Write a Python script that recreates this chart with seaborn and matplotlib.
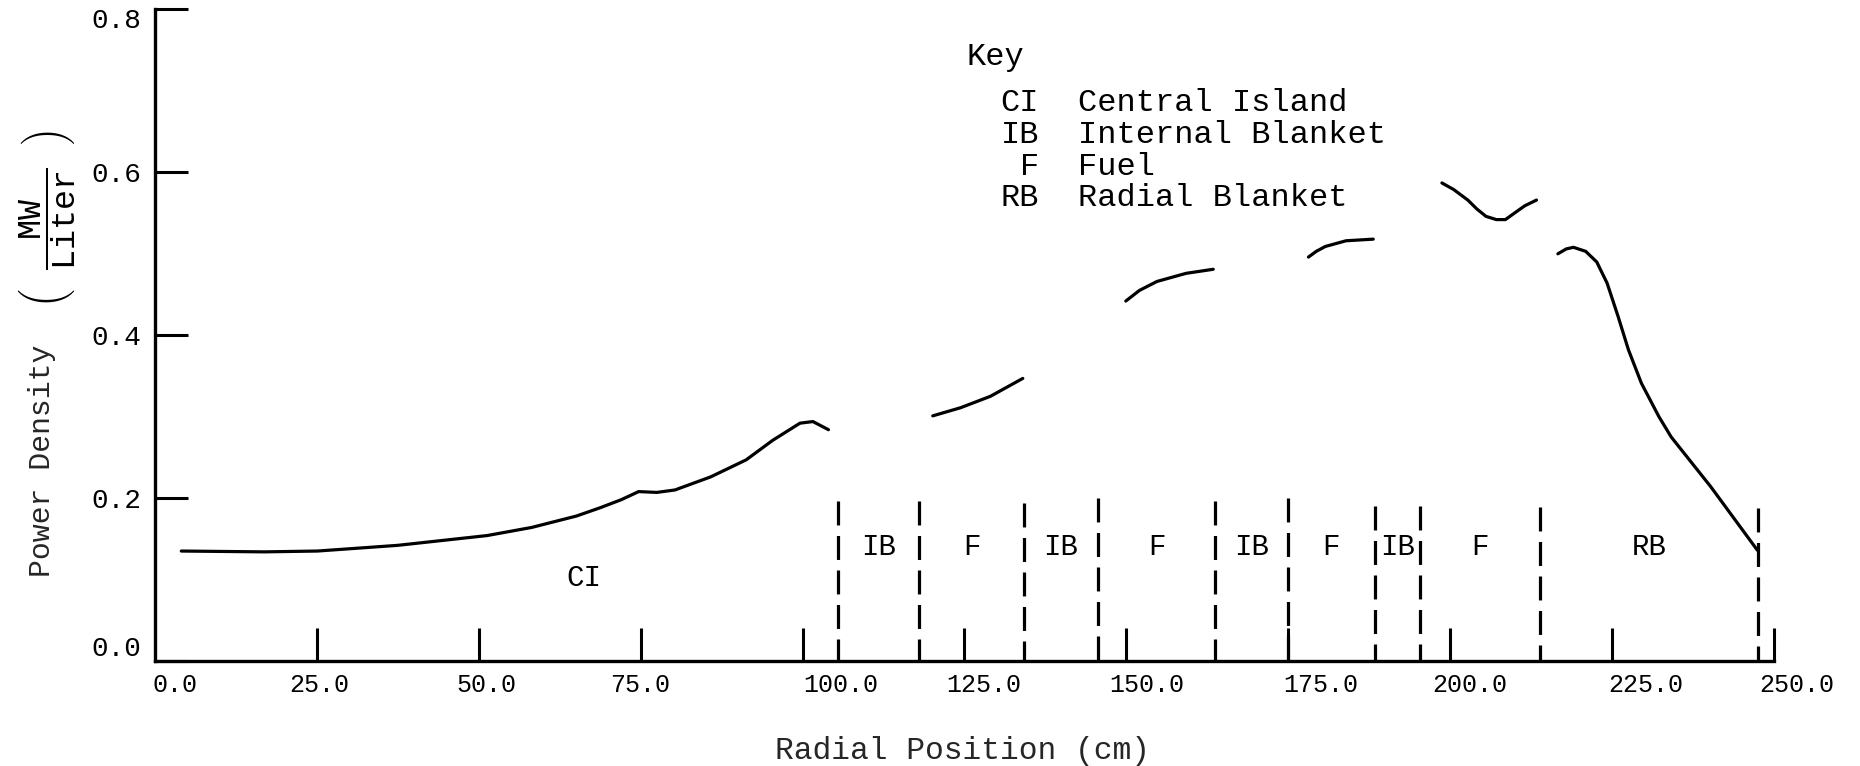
import numpy as np
import pandas as pd
import matplotlib
matplotlib.use("Agg")
import matplotlib.pyplot as plt
import matplotlib.transforms as mtransforms
import seaborn as sns

# ---- radial power density profile (r in cm, power density in MW/Liter) ----
ci_r = [4.1, 16.9, 25.1, 37.5, 51.3, 58.2, 65.1, 68.7, 72.0, 74.7, 77.5, 80.3,
        85.8, 91.3, 95.4, 99.6, 101.6, 104.0]
ci_p = [0.135, 0.134, 0.135, 0.142, 0.154, 0.164, 0.178, 0.188, 0.198, 0.208,
        0.207, 0.210, 0.226, 0.247, 0.271, 0.292, 0.294, 0.284]

f1_r = [120.1, 124.4, 129.0, 134.0]
f1_p = [0.301, 0.311, 0.325, 0.347]

f2_r = [149.9, 152.0, 154.7, 159.2, 163.4]
f2_p = [0.442, 0.455, 0.466, 0.476, 0.481]

f3_r = [178.1, 179.3, 180.7, 183.9, 188.1]
f3_p = [0.496, 0.503, 0.509, 0.516, 0.518]

f4_r = [198.7, 200.5, 202.7, 204.1, 205.5, 207.1, 208.5, 209.9, 211.5, 213.3]
f4_p = [0.587, 0.579, 0.566, 0.555, 0.546, 0.542, 0.542, 0.550, 0.559, 0.566]

rb_r = [216.6, 217.9, 219.0, 220.9, 222.6, 224.2, 225.9, 227.5, 229.5, 232.2,
        234.1, 240.2, 247.4]
rb_p = [0.500, 0.506, 0.508, 0.503, 0.490, 0.464, 0.423, 0.382, 0.341, 0.300,
        0.275, 0.214, 0.136]

# zone boundaries (cm) and the height of each dashed divider
zone_edges = [105.5, 118.0, 134.2, 145.6, 163.7, 174.9, 188.4, 195.3, 213.9, 247.5]
edge_tops = [0.197, 0.196, 0.194, 0.200, 0.197, 0.200, 0.190, 0.190, 0.189, 0.188]
zone_names = ["IB", "F", "IB", "F", "IB", "F", "IB", "F", "RB"]

key_codes = ["CI", "IB", "F", "RB"]
key_names = ["Central Island", "Internal Blanket", "Fuel", "Radial Blanket"]

x_ticks = [25, 50, 75, 100, 125, 150, 175, 200, 225, 250]
x_tick_labels = ["0.0", "25.0", "50.0", "75.0", "100.0", "125.0", "150.0",
                 "175.0", "200.0", "225.0", "250.0"]
y_ticks = [0.0, 0.2, 0.4, 0.6, 0.8]
y_tick_labels = ["0.0", "0.2", "0.4", "0.6", "0.8"]

# ---- style ----
sns.set_theme(style="white")
mono = "Liberation Mono"
plt.rcParams["font.family"] = [mono, "DejaVu Sans Mono"]
plt.rcParams["mathtext.fontset"] = "custom"
plt.rcParams["mathtext.rm"] = mono
plt.rcParams["mathtext.it"] = mono
plt.rcParams["text.color"] = "black"

fig = plt.figure(figsize=(18.6, 7.66), dpi=100)
ax = fig.add_axes([0.0832, 0.1371, 0.8881, 0.8505])

segments = [("CI", ci_r, ci_p), ("F1", f1_r, f1_p), ("F2", f2_r, f2_p),
            ("F3", f3_r, f3_p), ("F4", f4_r, f4_p), ("RB", rb_r, rb_p)]
df = pd.concat(
    [pd.DataFrame({"zone": z, "r": r, "p": p}) for z, r, p in segments],
    ignore_index=True,
)
sns.lineplot(data=df, x="r", y="p", units="zone", estimator=None, sort=False,
             color="black", linewidth=2.3, legend=False, ax=ax)

# dashed zone dividers, drawn from the top down
ax.vlines(zone_edges, edge_tops, 0, colors="black", linewidth=2.3,
          linestyles=(0, (7.5, 3.3)))

# zone labels centred between dividers
mids = [(a + b) / 2 for a, b in zip(zone_edges[:-1], zone_edges[1:])]
for name, xm in zip(zone_names, mids):
    ax.text(xm, 0.140, name, ha="center", va="center", fontsize=21)
ax.text(66.2, 0.1015, "CI", ha="center", va="center", fontsize=21)

# key block
ax.text(125.3, 0.7417, "Key", ha="left", va="center", fontsize=23)
key_rows = [0.6852, 0.6459, 0.6066, 0.5685]
for code, name, yk in zip(key_codes, key_names, key_rows):
    ax.text(136.5, yk, code, ha="right", va="center", fontsize=23)
    ax.text(142.5, yk, name, ha="left", va="center", fontsize=23)

# axes, ticks and labels
ax.set_xlim(0, 255)
ax.set_ylim(0, 0.8)
ax.xaxis.remove_overlapping_locs = False
ax.set_xticks(x_ticks, [""] * len(x_ticks))
label_at = [3.1, 25.4, 51.2, 75.0, 105.9, 128.0, 153.2, 180.0, 203.0, 230.1, 253.4]
ax.set_xticks(label_at, x_tick_labels, minor=True)
ax.tick_params(axis="x", which="major", bottom=True, direction="in", length=24,
               width=2.2, color="black")
ax.tick_params(axis="x", which="minor", bottom=True, length=0, pad=9,
               labelsize=18, labelcolor="black")
ax.set_yticks(y_ticks, y_tick_labels)
ax.tick_params(axis="y", which="major", left=True, direction="in", length=24,
               width=2.2, pad=10, labelsize=20, color="black",
               labelcolor="black")

# the end labels sit slightly inside the axis range
yt = ax.yaxis.get_major_ticks()
yt[0].label1.set_transform(yt[0].label1.get_transform()
                           + mtransforms.ScaledTranslation(0, 11 / 72, fig.dpi_scale_trans))
yt[-1].label1.set_transform(yt[-1].label1.get_transform()
                            + mtransforms.ScaledTranslation(0, -6 / 72, fig.dpi_scale_trans))

for side in ("top", "right"):
    ax.spines[side].set_visible(False)
for side in ("bottom", "left"):
    ax.spines[side].set_linewidth(2.4)
    ax.spines[side].set_color("black")
ax.spines["bottom"].set_bounds(0, 250)
ax.spines["left"].set_bounds(0, 0.8)

ax.set_xlabel("Radial Position (cm)", fontsize=22.5)
ax.xaxis.set_label_coords(0.4887, -0.138)
ax.xaxis.label.set_va("center")
ax.set_ylabel("Power Density", fontsize=21.5)
ax.yaxis.set_label_coords(-0.0685, 0.3073)
ax.yaxis.label.set_va("center")
ax.yaxis.label.set_ha("center")
ax.text(-0.065, 0.6778,
        r"$\left(\quad\dfrac{\mathrm{MW}}{\mathrm{Liter}}\quad\right)$",
        transform=ax.transAxes, rotation=90, ha="center", va="center",
        fontsize=24, clip_on=False)

fig.savefig("out.png", dpi=100, facecolor="white")
